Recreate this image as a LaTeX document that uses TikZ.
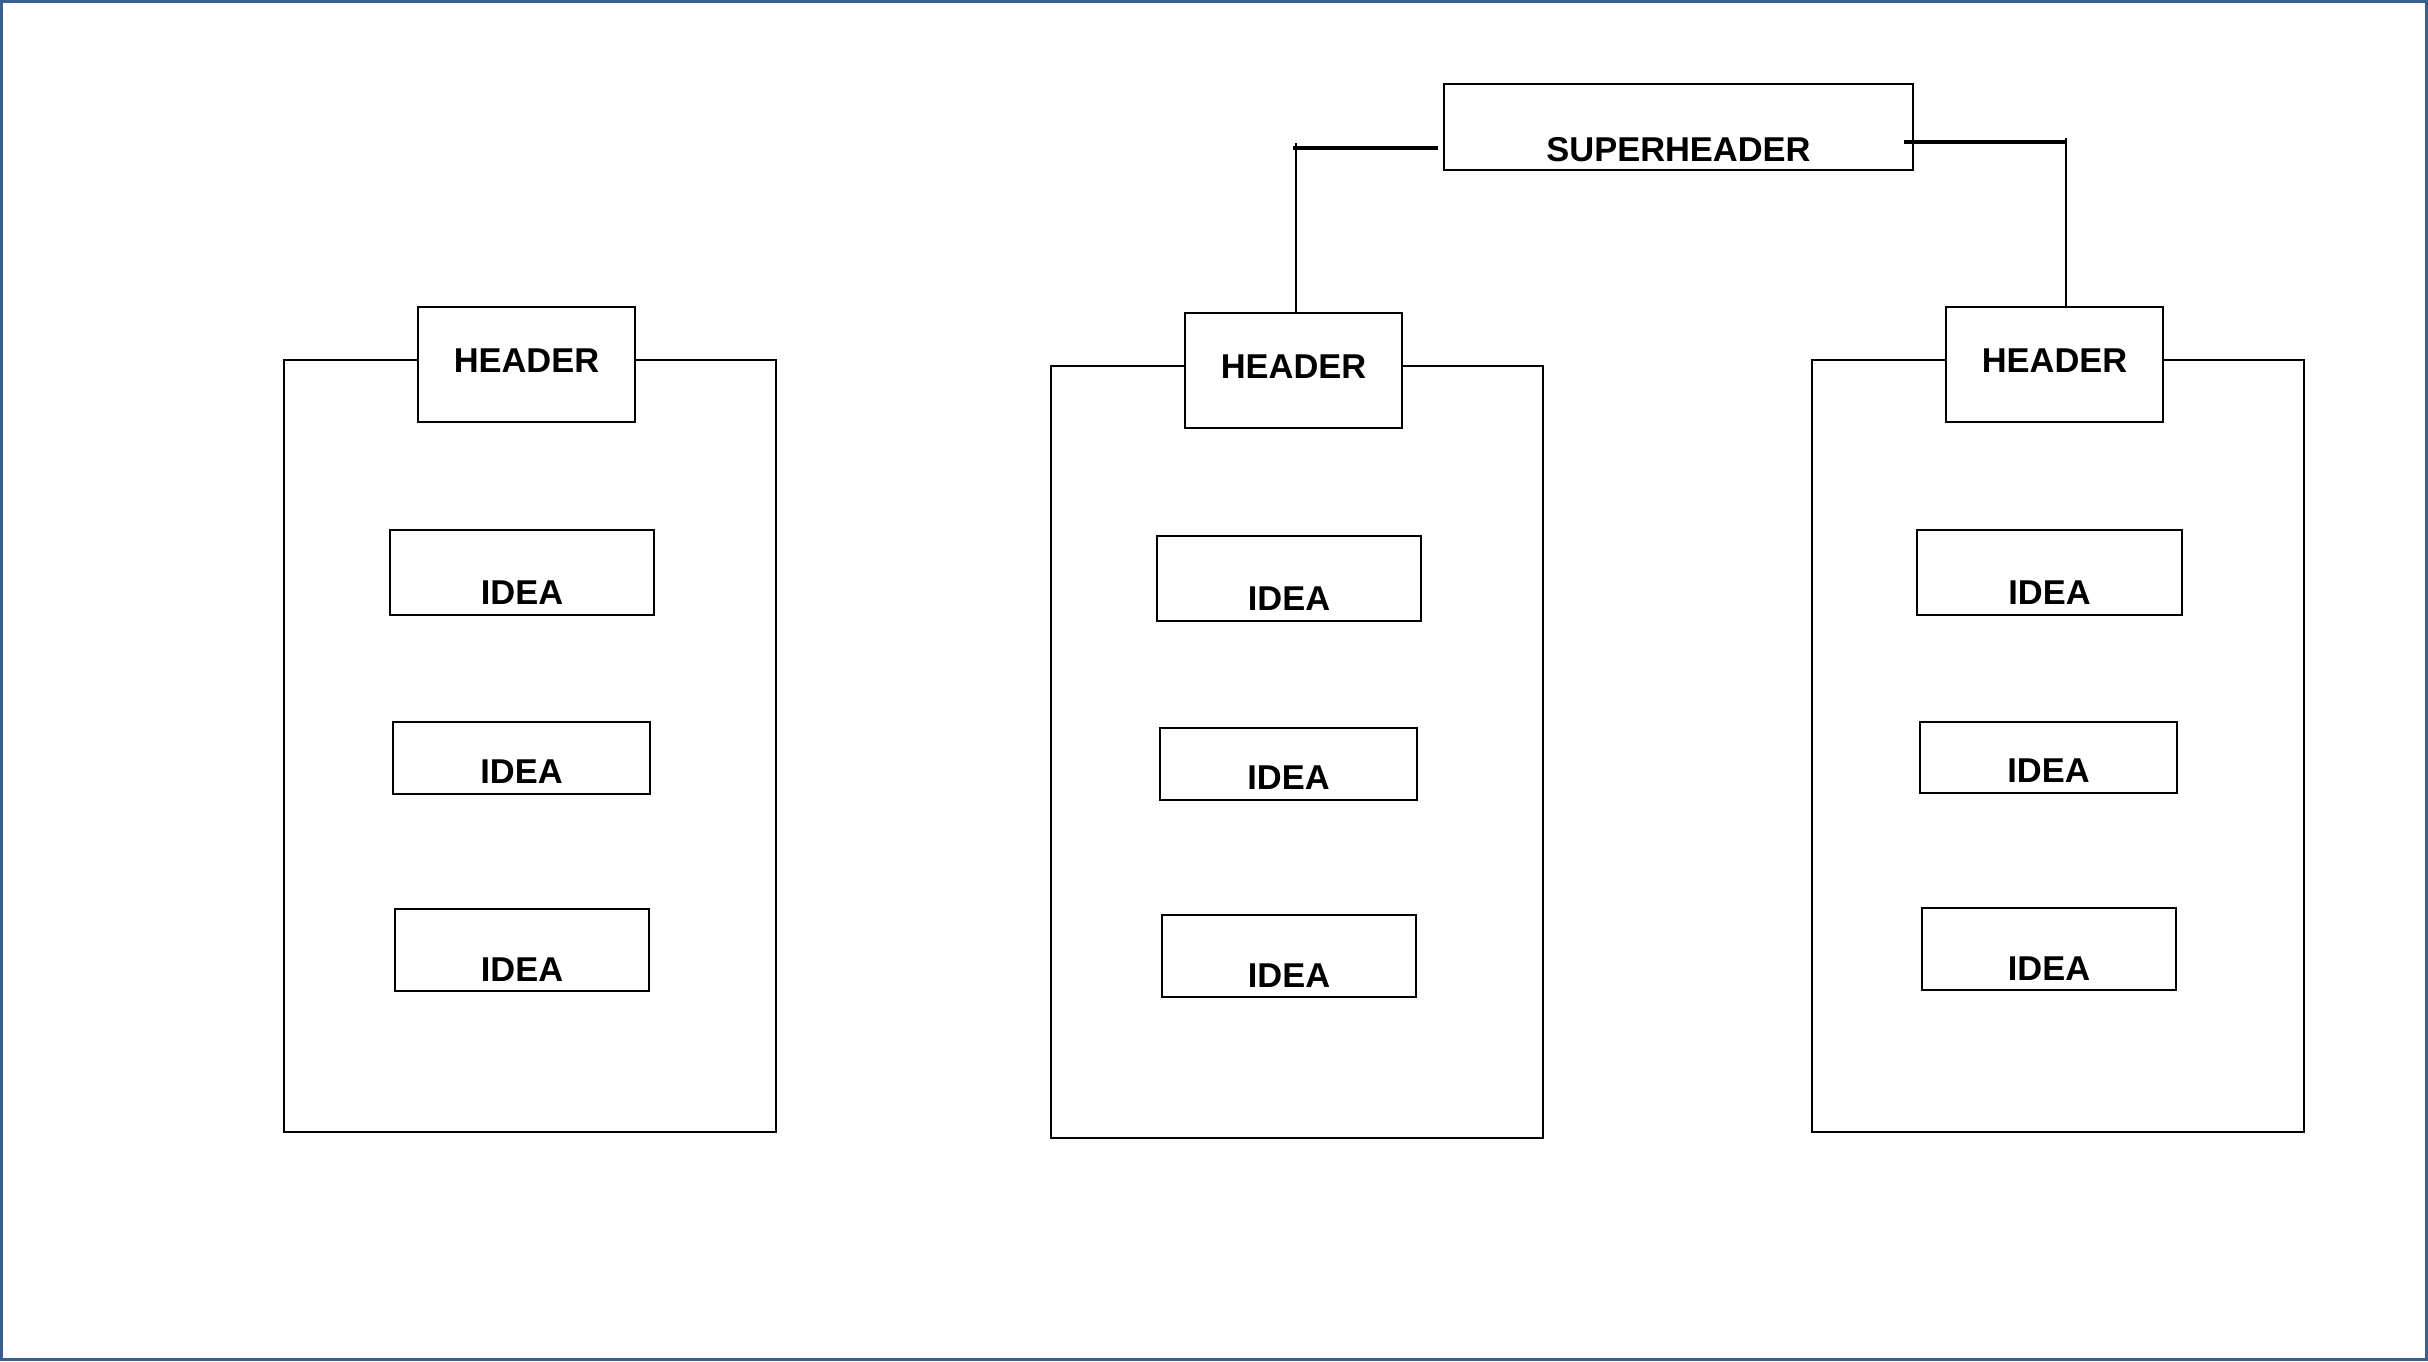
\documentclass[tikz,border=0pt]{standalone}
\usepackage{fontspec}
\setmainfont{Liberation Sans}
\usetikzlibrary{calc}
\definecolor{borderblue}{HTML}{3A5F8E}

% text sits low in the boxes
\newcommand{\lowtext}[2]{\raisebox{-#1}[0pt][0pt]{#2}}

\begin{document}
\begin{tikzpicture}
\tikzstyle{box}=[draw,outer sep=0pt,inner sep=0pt,line width=0.75pt,fill=white,font=\fontsize{9.8}{12}\selectfont\bfseries]
\tikzstyle{header}=[box,minimum width=2.17cm,minimum height=1.15cm]
\tikzstyle{frame}=[line width=0.75pt]
\tikzstyle{link}=[line width=0.8pt]
\tikzstyle{bar}=[line width=1.4pt]

\useasboundingbox (0,0) rectangle (24.28,-13.61);
\draw [draw=borderblue,line width=0.03cm] (0.015,-0.015) rectangle (24.265,-13.595);

% frames of the three columns
\draw [frame] (2.84,-3.60) rectangle (7.76,-11.32);
\draw [frame] (10.51,-3.66) rectangle (15.43,-11.38);
\draw [frame] (18.12,-3.60) rectangle (23.04,-11.32);

\node (SH) [box,minimum width=4.69cm,minimum height=0.86cm] at (16.785,-1.27) {\lowtext{0.34cm}{SUPERHEADER}};

\node (HL) [header] at (5.265,-3.645) {\lowtext{0.075cm}{HEADER}};
\node (HM) [header] at (12.935,-3.705) {\lowtext{0.08cm}{HEADER}};
\node (HR) [header] at (20.545,-3.645) {\lowtext{0.075cm}{HEADER}};

\node (IL1) [box,minimum width=2.64cm,minimum height=0.85cm] at (5.22,-5.725) {\lowtext{0.32cm}{IDEA}};
\node (IL2) [box,minimum width=2.57cm,minimum height=0.72cm] at (5.215,-7.58) {\lowtext{0.25cm}{IDEA}};
\node (IL3) [box,minimum width=2.54cm,minimum height=0.82cm] at (5.22,-9.50) {\lowtext{0.31cm}{IDEA}};

\node (IM1) [box,minimum width=2.64cm,minimum height=0.85cm] at (12.89,-5.785) {\lowtext{0.32cm}{IDEA}};
\node (IM2) [box,minimum width=2.57cm,minimum height=0.72cm] at (12.885,-7.64) {\lowtext{0.25cm}{IDEA}};
\node (IM3) [box,minimum width=2.54cm,minimum height=0.82cm] at (12.89,-9.56) {\lowtext{0.31cm}{IDEA}};

\node (IR1) [box,minimum width=2.65cm,minimum height=0.85cm] at (20.495,-5.725) {\lowtext{0.32cm}{IDEA}};
\node (IR2) [box,minimum width=2.57cm,minimum height=0.71cm] at (20.485,-7.575) {\lowtext{0.25cm}{IDEA}};
\node (IR3) [box,minimum width=2.54cm,minimum height=0.82cm] at (20.49,-9.49) {\lowtext{0.31cm}{IDEA}};

% superheader to the two headers
\coordinate (cl) at ($(HM.north |- SH.west)+(0.025,-0.21)$);
\coordinate (cr) at ($(HR.north |- SH.east)+(0.115,-0.15)$);

\draw [bar] ($(cl)+(-0.03,0)$) -- ($(SH.west)+(-0.06,-0.21)$);
\draw [link] ($(cl)+(0,0.05)$) -- ($(HM.north)+(0.025,0)$);

\draw [bar] ($(SH.east)+(-0.09,-0.15)$) -- (cr);
\draw [link] ($(cr)+(0,0.04)$) -- ($(HR.north)+(0.115,0)$);

\end{tikzpicture}
\end{document}
